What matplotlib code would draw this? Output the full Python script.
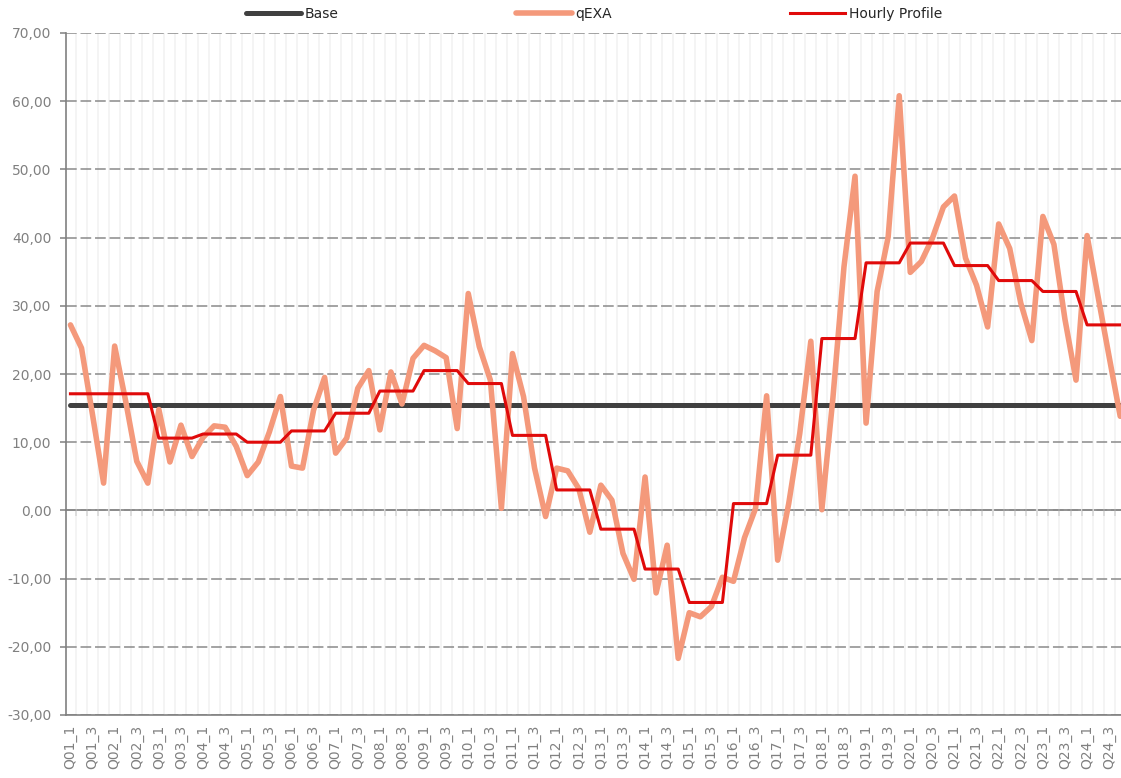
import numpy as np
import matplotlib
matplotlib.use("Agg")
import matplotlib.pyplot as plt
from matplotlib.ticker import FuncFormatter

# quarter-hour categories Q01_1 ... Q24_4
categories = [f"Q{h:02d}_{q}" for h in range(1, 25) for q in range(1, 5)]

qexa = [
    27.2, 23.8, 14.0, 4.0,
    24.1, 16.0, 7.2, 4.0,
    14.8, 7.1, 12.5, 7.9,
    10.7, 12.4, 12.2, 9.4,
    5.1, 7.1, 11.5, 16.7,
    6.5, 6.2, 14.7, 19.5,
    8.4, 10.6, 17.9, 20.5,
    11.8, 20.3, 15.6, 22.3,
    24.2, 23.4, 22.4, 12.0,
    31.8, 24.0, 19.1, 0.3,
    23.0, 16.7, 6.2, -0.9,
    6.2, 5.8, 3.2, -3.2,
    3.7, 1.5, -6.3, -10.1,
    4.9, -12.1, -5.1, -21.7,
    -15.0, -15.6, -14.1, -9.8,
    -10.4, -4.0, 0.3, 16.8,
    -7.3, 1.0, 11.3, 24.8,
    0.1, 16.5, 35.7, 49.0,
    12.8, 32.1, 40.1, 60.8,
    34.9, 36.5, 39.9, 44.5,
    46.1, 37.0, 33.0, 26.9,
    42.0, 38.4, 30.4, 24.9,
    43.1, 39.0, 28.0, 19.1,
    40.3, 31.3, 22.5, 13.8,
]

hourly_profile = [
    17.1, 17.1, 17.1, 17.1,
    17.1, 17.1, 17.1, 17.1,
    10.6, 10.6, 10.6, 10.6,
    11.2, 11.2, 11.2, 11.2,
    10.0, 10.0, 10.0, 10.0,
    11.65, 11.65, 11.65, 11.65,
    14.25, 14.25, 14.25, 14.25,
    17.5, 17.5, 17.5, 17.5,
    20.5, 20.5, 20.5, 20.5,
    18.6, 18.6, 18.6, 18.6,
    11.0, 11.0, 11.0, 11.0,
    3.0, 3.0, 3.0, 3.0,
    -2.75, -2.75, -2.75, -2.75,
    -8.6, -8.6, -8.6, -8.6,
    -13.5, -13.5, -13.5, -13.5,
    1.0, 1.0, 1.0, 1.0,
    8.1, 8.1, 8.1, 8.1,
    25.2, 25.2, 25.2, 25.2,
    36.3, 36.3, 36.3, 36.3,
    39.2, 39.2, 39.2, 39.2,
    35.9, 35.9, 35.9, 35.9,
    33.7, 33.7, 33.7, 33.7,
    32.1, 32.1, 32.1, 32.1,
    27.2, 27.2, 27.2, 27.2,
]

base = [15.5] * len(categories)

GRAY = "#808080"

plt.rcParams["font.family"] = ["DejaVu Sans"]

fig = plt.figure(figsize=(11.21, 7.78), dpi=100)
ax = fig.add_axes([65.7 / 1121, 1 - 715 / 778, 1 - 65.7 / 1121, (715 - 33) / 778])

x = np.arange(len(categories))
ax.plot(x, base, color="#404040", lw=3.6, solid_capstyle="round", label="Base", zorder=3)
ax.plot(x, qexa, color="#F4997B", lw=4.0, solid_capstyle="round", solid_joinstyle="round",
        label="qEXA", zorder=4)
ax.plot(x, hourly_profile, color="#E00A0A", lw=2.2, solid_joinstyle="round",
        label="Hourly Profile", zorder=5)

ax.set_xlim(-0.43, len(categories) - 0.93)
ax.set_ylim(-30, 70)

# y axis
ax.set_yticks(np.arange(-30, 71, 10))
ax.yaxis.set_major_formatter(FuncFormatter(lambda v, p: f"{v:.2f}".replace(".", ",")))
ax.tick_params(axis="y", length=4.3, width=1.1, color=GRAY, labelcolor=GRAY,
               labelsize=10, pad=6)
ax.yaxis.grid(True, color="#8A8A8A", lw=1.1, linestyle=(0, (7, 2.5)))

# x axis: labels every second quarter, light vertical lines between categories
ax.set_xticks(x[::2])
ax.set_xticklabels(categories[::2], rotation=90)
ax.set_xticks(x[:-1] + 0.5, minor=True)
ax.tick_params(axis="x", which="both", length=0, labelcolor=GRAY, labelsize=10, pad=7)
ax.xaxis.grid(False, which="major")
ax.xaxis.grid(True, which="minor", color="#F1F1F1", lw=1.1)
ax.set_axisbelow(True)

for s in ["top", "right"]:
    ax.spines[s].set_visible(False)
for s in ["left", "bottom"]:
    ax.spines[s].set_color(GRAY)
    ax.spines[s].set_linewidth(1.2)

# horizontal axis crossing at zero with small tick marks
sec = ax.secondary_xaxis(0, transform=ax.transData)
sec.set_xticks(x[:-1] + 0.5)
sec.tick_params(axis="x", length=4, width=1.1, color=GRAY, labelbottom=False)
sec.spines["bottom"].set_color(GRAY)
sec.spines["bottom"].set_linewidth(1.2)

fig.legend(loc="center", bbox_to_anchor=(594 / 1121, 1 - 14 / 778), ncol=3, frameon=False,
           fontsize=10, handlelength=4.0, handletextpad=0.25, columnspacing=12.8,
           labelcolor="#262626")

fig.savefig("out.png", dpi=100)
